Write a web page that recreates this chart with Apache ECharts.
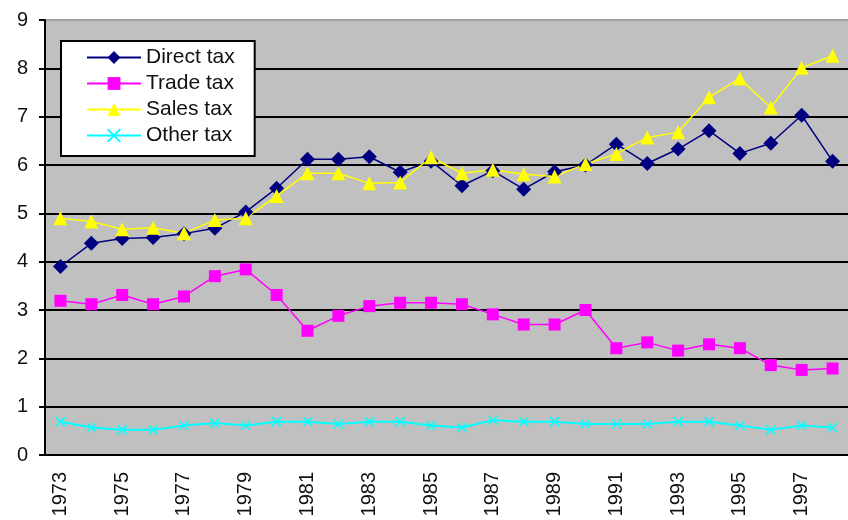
<!DOCTYPE html>
<html>
<head>
<meta charset="utf-8">
<script src="https://cdn.jsdelivr.net/npm/echarts@6/dist/echarts.min.js"></script>
<style>
  html, body { margin: 0; padding: 0; background: #fff; }
  #chart { width: 848px; height: 520px; }
</style>
</head>
<body>
<div id="chart"></div>
<script>
// years on the x axis
const years = ['1973', '1974', '1975', '1976', '1977', '1978', '1979', '1980', '1981', '1982',
  '1983', '1984', '1985', '1986', '1987', '1988', '1989', '1990', '1991', '1992',
  '1993', '1994', '1995', '1996', '1997', '1998'];

// values
const directTax = [3.90, 4.38, 4.48, 4.50, 4.58, 4.69, 5.03, 5.52, 6.12, 6.12,
  6.17, 5.85, 6.08, 5.57, 5.88, 5.50, 5.86, 6.00, 6.43, 6.03,
  6.33, 6.71, 6.24, 6.45, 7.03, 6.08];
const tradeTax = [3.19, 3.12, 3.31, 3.12, 3.28, 3.70, 3.84, 3.31, 2.57, 2.88,
  3.08, 3.15, 3.15, 3.12, 2.91, 2.70, 2.70, 3.00, 2.21, 2.33,
  2.16, 2.29, 2.21, 1.86, 1.76, 1.79];
const salesTax = [4.90, 4.83, 4.67, 4.70, 4.59, 4.86, 4.90, 5.36, 5.83, 5.83,
  5.62, 5.64, 6.16, 5.83, 5.90, 5.81, 5.76, 6.02, 6.23, 6.57,
  6.68, 7.40, 7.79, 7.19, 8.01, 8.26];
const otherTax = [0.69, 0.57, 0.52, 0.52, 0.61, 0.66, 0.61, 0.69, 0.69, 0.64,
  0.69, 0.69, 0.61, 0.57, 0.72, 0.69, 0.69, 0.64, 0.64, 0.64,
  0.69, 0.69, 0.61, 0.52, 0.61, 0.57];

const font = "'Liberation Sans', Arial, sans-serif";

var myChart = echarts.init(document.getElementById('chart'));

// black grid lines, the top one lighter like the plot border
var gridColors = [];
for (var i = 0; i < 9; i++) gridColors.push('#000');
gridColors.push('#a0a0a0');

var option = {
  backgroundColor: '#fff',
  animation: false,
  textStyle: { fontFamily: font },
  grid: {
    left: 45,
    top: 20,
    right: -7,
    bottom: 65,
    show: true,
    backgroundColor: '#c0c0c0',
    borderWidth: 0
  },
  legend: {
    orient: 'vertical',
    left: 61,
    top: 41,
    backgroundColor: '#fff',
    borderColor: '#000',
    borderWidth: 2,
    borderRadius: 0,
    padding: [6, 20, 10, 25],
    itemWidth: 54,
    itemHeight: 16,
    itemGap: 5,
    textStyle: { fontSize: 21, lineHeight: 20, color: '#111', fontFamily: font },
    data: ['Direct tax', 'Trade tax', 'Sales tax', 'Other tax']
  },
  xAxis: {
    type: 'category',
    data: years,
    boundaryGap: true,
    axisLine: { lineStyle: { color: '#000', width: 2 } },
    axisTick: { interval: 0, length: 7, lineStyle: { color: '#000', width: 2 } },
    axisLabel: { interval: 1, rotate: 90, margin: 17, fontSize: 20, color: '#111', fontFamily: font },
    splitLine: { show: false }
  },
  yAxis: {
    type: 'value',
    min: 0,
    max: 9,
    interval: 1,
    axisLine: { show: true, lineStyle: { color: '#000', width: 2 } },
    axisTick: { show: true, length: 6, lineStyle: { color: '#000', width: 2 } },
    axisLabel: { margin: 17, fontSize: 20, color: '#111', fontFamily: font },
    splitLine: { show: true, lineStyle: { color: gridColors, width: 2 } }
  },
  series: [
    {
      name: 'Direct tax',
      type: 'line',
      data: directTax,
      symbol: 'diamond',
      symbolSize: 15,
      itemStyle: { color: '#000080' },
      lineStyle: { color: '#000080', width: 1.5 }
    },
    {
      name: 'Trade tax',
      type: 'line',
      data: tradeTax,
      symbol: 'rect',
      symbolSize: 12,
      itemStyle: { color: '#ff00ff' },
      lineStyle: { color: '#ff00ff', width: 1.5 }
    },
    {
      name: 'Sales tax',
      type: 'line',
      data: salesTax,
      symbol: 'triangle',
      symbolSize: 14,
      itemStyle: { color: '#ffff00' },
      lineStyle: { color: '#ffff00', width: 1.5 }
    },
    {
      name: 'Other tax',
      type: 'line',
      data: otherTax,
      symbol: 'path://M0,0L10,10M10,0L0,10',
      symbolSize: 9,
      itemStyle: { color: '#00ffff', borderColor: '#00ffff', borderWidth: 1.5 },
      lineStyle: { color: '#00ffff', width: 2 }
    }
  ]
};

option && myChart.setOption(option);
</script>
</body>
</html>
